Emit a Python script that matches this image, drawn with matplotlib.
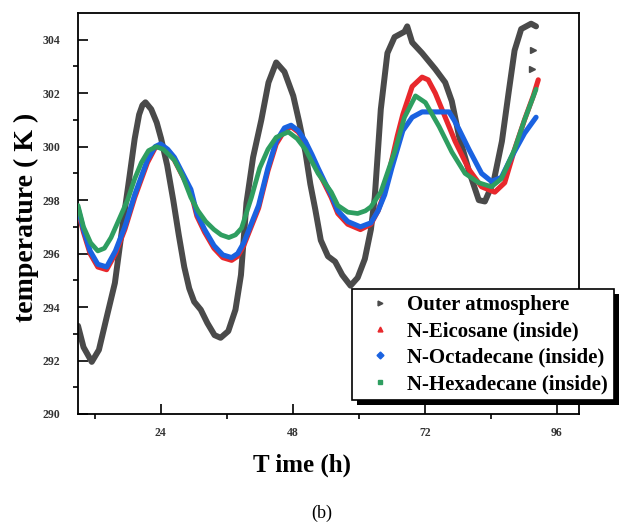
import matplotlib
matplotlib.use("Agg")
from matplotlib import pyplot as plt
from matplotlib.lines import Line2D
from matplotlib.patches import Rectangle
from matplotlib.transforms import IdentityTransform

plt.rcParams['font.family'] = ['Liberation Serif', 'DejaVu Serif']

# Outer atmosphere temperature over four days
outer_t = [9.0, 10.0, 11.5, 12.8, 14.3, 15.7, 17.0, 18.3, 19.3, 20.1, 20.7, 21.25, 22.3,
           23.3, 24.1, 25.2, 26.3, 27.3, 28.3, 29.2, 30.1, 31.3, 32.5, 33.8, 34.9,
           36.3, 37.6, 38.6, 39.6, 40.8, 42.3, 43.6, 45.0, 46.5, 48.1, 49.2, 50.3,
           51.2, 52.1, 53.1, 54.4, 55.7, 57.0, 58.5, 59.8, 61.1, 62.2, 62.9, 64.0,
           65.2, 66.5, 68.3, 68.8, 69.7, 71.5, 73.9, 75.7, 76.9, 78.2, 80.0, 81.8,
           82.9, 84.5, 86.0, 87.2, 88.3, 89.5, 91.3, 92.2]
outer_k = [293.3, 292.5, 291.95, 292.4, 293.7, 294.9, 296.9, 298.8, 300.3, 301.2, 301.55, 301.66, 301.4,
           300.9, 300.3, 299.3, 298.0, 296.7, 295.5, 294.7, 294.2, 293.9, 293.4, 292.95, 292.85,
           293.1, 293.9, 295.2, 297.9, 299.6, 301.0, 302.4, 303.15, 302.8, 301.9, 300.9, 299.8,
           298.6, 297.65, 296.5, 295.9, 295.7, 295.2, 294.8, 295.1, 295.8, 296.9, 298.1, 301.4,
           303.5, 304.1, 304.3, 304.5, 303.9, 303.5, 302.9, 302.4, 301.7, 300.4, 299.1, 298.0,
           297.95, 298.7, 300.2, 302.0, 303.6, 304.4, 304.6, 304.5]
# stray outer readings logged after the last peak
outer_extra_t = [91.6, 91.5]
outer_extra_k = [303.6, 302.9]

# N-Eicosane (inside)
eico_t = [9.0, 10.0, 11.2, 12.6, 14.2, 15.8, 17.5, 19.3, 21.6, 23.0, 24.0, 25.3,
          26.5, 28.0, 29.5, 30.6, 32.0, 33.7, 35.3, 36.9, 38.0, 39.1, 41.8, 43.5,
          45.0, 46.5, 47.7, 49.0, 50.3, 52.6, 55.0, 56.2, 58.0, 60.3, 62.2, 63.5,
          64.7, 66.0, 67.0, 68.0, 69.7, 71.5, 72.6, 73.9, 75.7, 77.5, 80.0, 82.3,
          84.7, 86.5, 88.3, 90.1, 91.7, 92.6]
eico_k = [297.6, 296.8, 296.0, 295.5, 295.4, 296.0, 296.9, 298.1, 299.4, 299.95, 300.05, 299.85,
          299.5, 298.9, 298.3, 297.4, 296.8, 296.2, 295.85, 295.75, 295.9, 296.3, 297.7, 299.1,
          300.1, 300.6, 300.75, 300.55, 300.15, 299.1, 298.1, 297.5, 297.1, 296.9, 297.1, 297.6,
          298.3, 299.5, 300.4, 301.2, 302.25, 302.6, 302.5, 302.0, 301.1, 300.2, 299.15, 298.5,
          298.3, 298.65, 299.9, 301.0, 301.9, 302.5]

# N-Octadecane (inside)
octa_t = [9.0, 10.0, 11.2, 12.6, 14.2, 15.8, 17.5, 19.3, 21.6, 23.0, 24.0, 25.3,
          26.5, 28.0, 29.5, 30.6, 32.0, 33.7, 35.3, 36.9, 38.0, 39.1, 41.8, 43.5,
          45.0, 46.5, 47.7, 49.0, 50.3, 51.5, 52.6, 54.0, 55.0, 56.2, 58.0, 60.3,
          62.2, 63.5, 64.7, 66.0, 67.0, 68.0, 69.7, 71.5, 73.9, 76.4, 77.3, 78.2,
          80.0, 82.3, 84.1, 85.9, 87.7, 90.1, 92.2]
octa_k = [297.7, 296.9, 296.1, 295.6, 295.5, 296.1, 297.0, 298.2, 299.5, 300.0, 300.1, 299.9,
          299.6, 299.0, 298.4, 297.5, 296.9, 296.3, 295.95, 295.85, 296.0, 296.4, 297.8, 299.2,
          300.2, 300.7, 300.8, 300.6, 300.2, 299.7, 299.2, 298.6, 298.2, 297.6, 297.2, 297.0,
          297.15, 297.6, 298.2, 299.2, 299.9, 300.6, 301.1, 301.3, 301.3, 301.3, 301.0, 300.65,
          299.9, 299.0, 298.7, 298.85, 299.6, 300.5, 301.1]

# N-Hexadecane (inside)
hexa_t = [9.0, 10.0, 11.3, 12.6, 13.8, 15.0, 16.5, 18.0, 19.3, 20.5, 21.8, 23.2,
          24.5, 26.5, 28.0, 29.5, 30.8, 32.2, 33.7, 35.0, 36.4, 37.6, 38.7, 40.5,
          42.0, 43.5, 45.0, 47.2, 48.8, 50.3, 52.6, 55.0, 56.2, 58.0, 59.8, 61.2,
          62.2, 64.0, 66.5, 68.3, 70.3, 72.1, 74.6, 76.9, 79.3, 81.8, 84.1, 85.9,
          88.3, 90.1, 92.2]
hexa_k = [297.8, 297.0, 296.4, 296.1, 296.2, 296.6, 297.3, 298.0, 298.8, 299.4, 299.85, 300.0,
          299.9, 299.5, 298.9, 298.1, 297.6, 297.2, 296.9, 296.7, 296.6, 296.7, 296.95, 298.1,
          299.2, 299.9, 300.35, 300.55, 300.3, 299.9, 299.0, 298.3, 297.8, 297.55, 297.5, 297.6,
          297.75, 298.3, 299.8, 301.1, 301.9, 301.65, 300.75, 299.8, 299.0, 298.65, 298.5, 298.8,
          299.9, 301.0, 302.15]

labels = ['Outer atmosphere', 'N-Eicosane (inside)', 'N-Octadecane (inside)', 'N-Hexadecane (inside)']
colors = ['#4a4a4a', '#e8282c', '#1a62e0', '#2e9e60']
markers = ['>', '^', 'D', 's']
x_ticks = [24, 48, 72, 96]
y_ticks = [290, 292, 294, 296, 298, 300, 302, 304]

fig = plt.figure(figsize=(6.22, 5.25), dpi=100)
ax = fig.add_axes([78 / 622, 111 / 525, 501 / 622, 401 / 525])

line_kw = dict(solid_capstyle='round', solid_joinstyle='round')
ax.plot(outer_t, outer_k, color=colors[0], lw=4.3, zorder=2, **line_kw)
ax.plot(outer_extra_t, outer_extra_k, ls='none', marker='>', ms=4, color=colors[0], zorder=2)
ax.plot(eico_t, eico_k, color=colors[1], lw=3.7, zorder=3, **line_kw)
ax.plot(octa_t, octa_k, color=colors[2], lw=3.7, zorder=4, **line_kw)
ax.plot(hexa_t, hexa_k, color=colors[3], lw=3.4, zorder=5, **line_kw)

ax.set_xlim(9, 100)
ax.set_ylim(290, 305)
ax.set_xticks(x_ticks)
ax.set_xticks([12, 36, 60, 84], minor=True)
ax.set_yticks(y_ticks)
ax.set_yticks([291, 293, 295, 297, 299, 301, 303], minor=True)
ax.tick_params(which='major', direction='in', length=7, width=1.2)
ax.tick_params(axis='y', which='major', pad=13)
ax.tick_params(axis='x', which='major', pad=9)
ax.tick_params(which='minor', direction='out', length=3.5, width=1.2)
for lab in ax.get_xticklabels() + ax.get_yticklabels():
    lab.set_fontsize(8.5)
    lab.set_fontweight('bold')
    lab.set_color('#333333')
for sp in ax.spines.values():
    sp.set_linewidth(1.3)

ax.set_xlabel('T ime (h)', fontsize=18, fontweight='bold', va='center')
ax.xaxis.set_label_coords(0.447, -0.127)
ax.set_ylabel('temperature ( K )', fontsize=20, fontweight='bold', va='center')
ax.yaxis.set_label_coords(-0.102, 0.491)

handles = [Line2D([], [], ls='none', marker=m, color=c, markersize=3.5)
           for m, c in zip(markers, colors)]
leg = ax.legend(handles, labels, loc='upper left',
                bbox_to_anchor=(352 / 622, 1 - 289 / 525), bbox_transform=fig.transFigure,
                borderaxespad=0, borderpad=0.3, labelspacing=0.3, handlelength=2.1,
                handletextpad=0.25, fancybox=False, framealpha=1,
                prop={'family': 'Liberation Serif', 'weight': 'bold', 'size': 15})
leg.get_frame().set_edgecolor('black')
leg.get_frame().set_linewidth(1.2)
leg.set_zorder(10)

# solid black drop shadow under the legend box
fig.canvas.draw()
bb = leg.get_window_extent()
shadow = Rectangle((bb.x0 + 5, bb.y0 - 5), bb.width, bb.height, transform=IdentityTransform(),
                   facecolor='black', edgecolor='none', clip_on=False, zorder=9)
ax.add_artist(shadow)

fig.text(322 / 622, 1 - 513 / 525, '(b)', ha='center', va='center', fontsize=13)

fig.savefig('out.png', dpi=100)
